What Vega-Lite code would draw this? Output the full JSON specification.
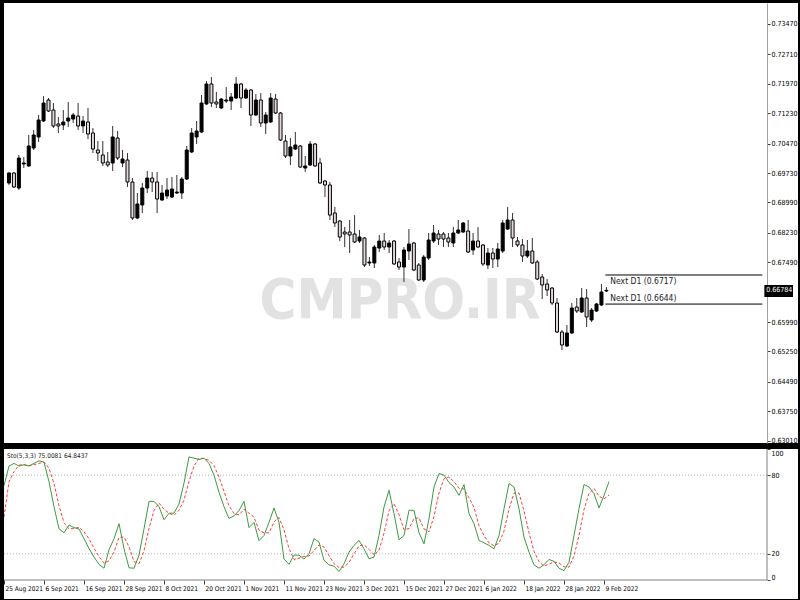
{
  "$schema": "https://vega.github.io/schema/vega-lite/v6.json",
  "background": "black",
  "padding": {"left": 3, "top": 3, "right": 3, "bottom": 3},
  "spacing": 4,
  "config": {
    "view": {"stroke": null, "fill": "white"},
    "font": "DejaVu Sans Condensed",
    "axis": {"labelFont": "DejaVu Sans Condensed", "labelColor": "#000", "labelOverlap": false}
  },
  "datasets": {
    "candles": [
      {"i":0,"open":0.69479,"high":0.69755,"low":0.69429,"close":0.6973},
      {"i":1,"open":0.6973,"high":0.69755,"low":0.69353,"close":0.69379},
      {"i":2,"open":0.69353,"high":0.70182,"low":0.69303,"close":0.70106},
      {"i":3,"open":0.69956,"high":0.70131,"low":0.69855,"close":0.69981},
      {"i":4,"open":0.69906,"high":0.70684,"low":0.6988,"close":0.70408},
      {"i":5,"open":0.70357,"high":0.70809,"low":0.70307,"close":0.70684},
      {"i":6,"open":0.70634,"high":0.71186,"low":0.70508,"close":0.7106},
      {"i":7,"open":0.71035,"high":0.71662,"low":0.7101,"close":0.71487},
      {"i":8,"open":0.71562,"high":0.71612,"low":0.71261,"close":0.71286},
      {"i":9,"open":0.71311,"high":0.71487,"low":0.70859,"close":0.7091},
      {"i":10,"open":0.7096,"high":0.71135,"low":0.70734,"close":0.7091},
      {"i":11,"open":0.70935,"high":0.71311,"low":0.70809,"close":0.7101},
      {"i":12,"open":0.71035,"high":0.71512,"low":0.70885,"close":0.7111},
      {"i":13,"open":0.71085,"high":0.71236,"low":0.70985,"close":0.71186},
      {"i":14,"open":0.7116,"high":0.71487,"low":0.70809,"close":0.7091},
      {"i":15,"open":0.7091,"high":0.7116,"low":0.70734,"close":0.71035},
      {"i":16,"open":0.7101,"high":0.71361,"low":0.70583,"close":0.70709},
      {"i":17,"open":0.70734,"high":0.70859,"low":0.70232,"close":0.70332},
      {"i":18,"open":0.70307,"high":0.70533,"low":0.70031,"close":0.70232},
      {"i":19,"open":0.70182,"high":0.70533,"low":0.69906,"close":0.69981},
      {"i":20,"open":0.70006,"high":0.70257,"low":0.6988,"close":0.69931},
      {"i":21,"open":0.69981,"high":0.7091,"low":0.6978,"close":0.70634},
      {"i":22,"open":0.70608,"high":0.70784,"low":0.70056,"close":0.70106},
      {"i":23,"open":0.69981,"high":0.70307,"low":0.6988,"close":0.70081},
      {"i":24,"open":0.70056,"high":0.70232,"low":0.69379,"close":0.69504},
      {"i":25,"open":0.69504,"high":0.69604,"low":0.6855,"close":0.686},
      {"i":26,"open":0.686,"high":0.69228,"low":0.68575,"close":0.68952},
      {"i":27,"open":0.68927,"high":0.69479,"low":0.68726,"close":0.69353},
      {"i":28,"open":0.69353,"high":0.6978,"low":0.69228,"close":0.69604},
      {"i":29,"open":0.69604,"high":0.69755,"low":0.69253,"close":0.69504},
      {"i":30,"open":0.69504,"high":0.69755,"low":0.68726,"close":0.69077},
      {"i":31,"open":0.69052,"high":0.69429,"low":0.69027,"close":0.69228},
      {"i":32,"open":0.69153,"high":0.69604,"low":0.69077,"close":0.69303},
      {"i":33,"open":0.69127,"high":0.69629,"low":0.69102,"close":0.69328},
      {"i":34,"open":0.69228,"high":0.6968,"low":0.69203,"close":0.69253},
      {"i":35,"open":0.69228,"high":0.69629,"low":0.69077,"close":0.69579},
      {"i":36,"open":0.69579,"high":0.70408,"low":0.69554,"close":0.70307},
      {"i":37,"open":0.70257,"high":0.70859,"low":0.70232,"close":0.70734},
      {"i":38,"open":0.70634,"high":0.71035,"low":0.70458,"close":0.70784},
      {"i":39,"open":0.70759,"high":0.71688,"low":0.70734,"close":0.71487},
      {"i":40,"open":0.71462,"high":0.72039,"low":0.71437,"close":0.71964},
      {"i":41,"open":0.71964,"high":0.72139,"low":0.71386,"close":0.71487},
      {"i":42,"open":0.71512,"high":0.71763,"low":0.71361,"close":0.71462},
      {"i":43,"open":0.71361,"high":0.71612,"low":0.71336,"close":0.71587},
      {"i":44,"open":0.71537,"high":0.71888,"low":0.71487,"close":0.71562},
      {"i":45,"open":0.71537,"high":0.71738,"low":0.71311,"close":0.71637},
      {"i":46,"open":0.71612,"high":0.72139,"low":0.71587,"close":0.71964},
      {"i":47,"open":0.71964,"high":0.71989,"low":0.71361,"close":0.71612},
      {"i":48,"open":0.71612,"high":0.71863,"low":0.71587,"close":0.71813},
      {"i":49,"open":0.71813,"high":0.71838,"low":0.7091,"close":0.71186},
      {"i":50,"open":0.71186,"high":0.71713,"low":0.7116,"close":0.71562},
      {"i":51,"open":0.71562,"high":0.71738,"low":0.70885,"close":0.70985},
      {"i":52,"open":0.70985,"high":0.71261,"low":0.70709,"close":0.71186},
      {"i":53,"open":0.7101,"high":0.71738,"low":0.70985,"close":0.71612},
      {"i":54,"open":0.71587,"high":0.71713,"low":0.71211,"close":0.71236},
      {"i":55,"open":0.71236,"high":0.71261,"low":0.70533,"close":0.70558},
      {"i":56,"open":0.70533,"high":0.70684,"low":0.70106,"close":0.70156},
      {"i":57,"open":0.70156,"high":0.70608,"low":0.69931,"close":0.70383},
      {"i":58,"open":0.70332,"high":0.70759,"low":0.70307,"close":0.70433},
      {"i":59,"open":0.70408,"high":0.70433,"low":0.69855,"close":0.6988},
      {"i":60,"open":0.69855,"high":0.70156,"low":0.69755,"close":0.69906},
      {"i":61,"open":0.69931,"high":0.70533,"low":0.69906,"close":0.70458},
      {"i":62,"open":0.70458,"high":0.70483,"low":0.6988,"close":0.69906},
      {"i":63,"open":0.69981,"high":0.70106,"low":0.69454,"close":0.69479},
      {"i":64,"open":0.69529,"high":0.69554,"low":0.69127,"close":0.69429},
      {"i":65,"open":0.69429,"high":0.69504,"low":0.6855,"close":0.68675},
      {"i":66,"open":0.68726,"high":0.68876,"low":0.68374,"close":0.68475},
      {"i":67,"open":0.68525,"high":0.6855,"low":0.68023,"close":0.68123},
      {"i":68,"open":0.68249,"high":0.68374,"low":0.67872,"close":0.68199},
      {"i":69,"open":0.68249,"high":0.6855,"low":0.67722,"close":0.68174},
      {"i":70,"open":0.68199,"high":0.68675,"low":0.67973,"close":0.67998},
      {"i":71,"open":0.68023,"high":0.68299,"low":0.67973,"close":0.68123},
      {"i":72,"open":0.68098,"high":0.68123,"low":0.6737,"close":0.67421},
      {"i":73,"open":0.67471,"high":0.67621,"low":0.67396,"close":0.67496},
      {"i":74,"open":0.67471,"high":0.67923,"low":0.67345,"close":0.67872},
      {"i":75,"open":0.67847,"high":0.68174,"low":0.67747,"close":0.68023},
      {"i":76,"open":0.68023,"high":0.68224,"low":0.67797,"close":0.67872},
      {"i":77,"open":0.67872,"high":0.68048,"low":0.67722,"close":0.67973},
      {"i":78,"open":0.68023,"high":0.68048,"low":0.67421,"close":0.67446},
      {"i":79,"open":0.67496,"high":0.67596,"low":0.67295,"close":0.6737},
      {"i":80,"open":0.6737,"high":0.67872,"low":0.66994,"close":0.67797},
      {"i":81,"open":0.67772,"high":0.68324,"low":0.67546,"close":0.67948},
      {"i":82,"open":0.67973,"high":0.67998,"low":0.6727,"close":0.67295},
      {"i":83,"open":0.67421,"high":0.67471,"low":0.67019,"close":0.67044},
      {"i":84,"open":0.67044,"high":0.67672,"low":0.66994,"close":0.67621},
      {"i":85,"open":0.67596,"high":0.68224,"low":0.67546,"close":0.68048},
      {"i":86,"open":0.68023,"high":0.68425,"low":0.67973,"close":0.68224},
      {"i":87,"open":0.68199,"high":0.68299,"low":0.67923,"close":0.68073},
      {"i":88,"open":0.68199,"high":0.68249,"low":0.67872,"close":0.68073},
      {"i":89,"open":0.68098,"high":0.68224,"low":0.67872,"close":0.67998},
      {"i":90,"open":0.67973,"high":0.68374,"low":0.67872,"close":0.68224},
      {"i":91,"open":0.68224,"high":0.6855,"low":0.68199,"close":0.68299},
      {"i":92,"open":0.68249,"high":0.685,"low":0.68224,"close":0.68475},
      {"i":93,"open":0.68274,"high":0.6855,"low":0.67722,"close":0.67747},
      {"i":94,"open":0.67797,"high":0.68224,"low":0.67672,"close":0.68023},
      {"i":95,"open":0.68023,"high":0.68374,"low":0.67847,"close":0.67872},
      {"i":96,"open":0.67923,"high":0.67948,"low":0.67396,"close":0.67446},
      {"i":97,"open":0.67421,"high":0.67847,"low":0.6732,"close":0.67722},
      {"i":98,"open":0.67722,"high":0.67847,"low":0.67345,"close":0.67571},
      {"i":99,"open":0.67571,"high":0.67973,"low":0.6737,"close":0.67822},
      {"i":100,"open":0.67772,"high":0.6855,"low":0.67722,"close":0.68475},
      {"i":101,"open":0.68324,"high":0.68876,"low":0.68299,"close":0.6855},
      {"i":102,"open":0.6855,"high":0.68726,"low":0.67872,"close":0.68098},
      {"i":103,"open":0.68023,"high":0.68123,"low":0.67872,"close":0.67923},
      {"i":104,"open":0.67923,"high":0.68073,"low":0.67496,"close":0.67646},
      {"i":105,"open":0.67646,"high":0.68048,"low":0.67596,"close":0.67772},
      {"i":106,"open":0.67772,"high":0.68098,"low":0.67446,"close":0.67471},
      {"i":107,"open":0.67496,"high":0.67546,"low":0.67044,"close":0.67069},
      {"i":108,"open":0.67119,"high":0.67195,"low":0.66567,"close":0.66919},
      {"i":109,"open":0.66944,"high":0.67069,"low":0.66642,"close":0.66793},
      {"i":110,"open":0.66843,"high":0.66868,"low":0.66417,"close":0.66467},
      {"i":111,"open":0.66467,"high":0.66592,"low":0.65714,"close":0.65739},
      {"i":112,"open":0.65739,"high":0.65789,"low":0.65287,"close":0.65413},
      {"i":113,"open":0.65387,"high":0.65915,"low":0.65362,"close":0.65714},
      {"i":114,"open":0.65714,"high":0.66467,"low":0.65689,"close":0.66341},
      {"i":115,"open":0.66366,"high":0.66592,"low":0.66216,"close":0.66266},
      {"i":116,"open":0.66241,"high":0.66843,"low":0.66216,"close":0.66592},
      {"i":117,"open":0.66592,"high":0.66818,"low":0.65865,"close":0.66115},
      {"i":118,"open":0.6604,"high":0.66341,"low":0.6599,"close":0.66291},
      {"i":119,"open":0.66266,"high":0.66467,"low":0.66241,"close":0.66442},
      {"i":120,"open":0.66417,"high":0.66944,"low":0.66391,"close":0.66743},
      {"i":121,"open":0.66768,"high":0.66868,"low":0.66743,"close":0.66784}
    ],
    "stoch": [
      {"i":0,"k":72,"d":48},{"i":1,"k":87,"d":75},{"i":2,"k":89,"d":82.7},{"i":3,"k":87,"d":87.7},
      {"i":4,"k":88,"d":88},{"i":5,"k":87,"d":87.3},{"i":6,"k":89,"d":88},{"i":7,"k":91,"d":89},
      {"i":8,"k":90,"d":90},{"i":9,"k":75,"d":85.3},{"i":10,"k":56,"d":73.7},{"i":11,"k":39,"d":56.7},
      {"i":12,"k":36,"d":43.7},{"i":13,"k":42,"d":39},{"i":14,"k":40,"d":39.3},{"i":15,"k":39,"d":40.3},
      {"i":16,"k":31.5,"d":36.8},{"i":17,"k":24,"d":31.5},{"i":18,"k":17.5,"d":24.3},{"i":19,"k":12,"d":17.8},
      {"i":20,"k":9,"d":12.8},{"i":21,"k":23,"d":14.7},{"i":22,"k":31.5,"d":21.2},{"i":23,"k":43,"d":32.5},
      {"i":24,"k":24,"d":32.8},{"i":25,"k":9.3,"d":25.4},{"i":26,"k":9,"d":14.1},{"i":27,"k":19,"d":12.4},
      {"i":28,"k":39,"d":22.3},{"i":29,"k":60,"d":39.3},{"i":30,"k":60,"d":53},{"i":31,"k":56,"d":58.7},
      {"i":32,"k":46,"d":54},{"i":33,"k":51,"d":51},{"i":34,"k":51,"d":49.3},{"i":35,"k":58,"d":53.3},
      {"i":36,"k":74,"d":61},{"i":37,"k":94,"d":75.3},{"i":38,"k":93,"d":87},{"i":39,"k":92,"d":93},
      {"i":40,"k":93,"d":92.7},{"i":41,"k":89,"d":91.3},{"i":42,"k":80,"d":87.3},{"i":43,"k":67,"d":78.7},
      {"i":44,"k":56,"d":67.7},{"i":45,"k":47,"d":56.7},{"i":46,"k":49,"d":50.7},{"i":47,"k":53,"d":49.7},
      {"i":48,"k":60,"d":54},{"i":49,"k":40,"d":51},{"i":50,"k":44,"d":48},{"i":51,"k":30,"d":38},
      {"i":52,"k":34,"d":36},{"i":53,"k":44,"d":36},{"i":54,"k":55,"d":44.3},{"i":55,"k":44,"d":47.7},
      {"i":56,"k":16,"d":38.3},{"i":57,"k":12,"d":24},{"i":58,"k":19,"d":15.7},{"i":59,"k":19,"d":16.7},
      {"i":60,"k":16,"d":18},{"i":61,"k":20,"d":18.3},{"i":62,"k":31.5,"d":22.5},{"i":63,"k":29,"d":26.8},
      {"i":64,"k":15,"d":25.2},{"i":65,"k":11.6,"d":18.5},{"i":66,"k":10.6,"d":12.4},{"i":67,"k":6.5,"d":9.6},
      {"i":68,"k":12.3,"d":9.8},{"i":69,"k":21.3,"d":13.4},{"i":70,"k":26.4,"d":20},{"i":71,"k":30.2,"d":26},
      {"i":72,"k":23.8,"d":26.8},{"i":73,"k":16.2,"d":23.4},{"i":74,"k":17.5,"d":19.2},{"i":75,"k":34,"d":22.6},
      {"i":76,"k":55.7,"d":35.7},{"i":77,"k":68.5,"d":52.7},{"i":78,"k":50.6,"d":58.3},{"i":79,"k":30.7,"d":49.9},
      {"i":80,"k":34,"d":38.4},{"i":81,"k":53.2,"d":39.3},{"i":82,"k":53.2,"d":46.8},{"i":83,"k":36.1,"d":47.5},
      {"i":84,"k":27.6,"d":39},{"i":85,"k":46.8,"d":36.8},{"i":86,"k":71,"d":48.5},{"i":87,"k":81.3,"d":66.4},
      {"i":88,"k":80,"d":77.4},{"i":89,"k":74.4,"d":78.6},{"i":90,"k":71,"d":75.1},{"i":91,"k":64.6,"d":70},
      {"i":92,"k":72.9,"d":69.5},{"i":93,"k":50.6,"d":62.7},{"i":94,"k":43,"d":55.5},{"i":95,"k":30.2,"d":41.3},
      {"i":96,"k":28.4,"d":33.9},{"i":97,"k":26.4,"d":28.3},{"i":98,"k":23.8,"d":26.2},{"i":99,"k":34,"d":28.1},
      {"i":100,"k":54.4,"d":37.4},{"i":101,"k":73.6,"d":54},{"i":102,"k":71,"d":66.3},{"i":103,"k":54.4,"d":66.3},
      {"i":104,"k":32.8,"d":52.7},{"i":105,"k":21.3,"d":36.2},{"i":106,"k":11.6,"d":21.9},{"i":107,"k":9,"d":14},
      {"i":108,"k":11.6,"d":10.7},{"i":109,"k":15.7,"d":12.1},{"i":110,"k":14.2,"d":13.8},{"i":111,"k":9,"d":13},
      {"i":112,"k":7.2,"d":10.1},{"i":113,"k":13.6,"d":9.9},{"i":114,"k":34,"d":18.3},{"i":115,"k":54.4,"d":34},
      {"i":116,"k":72.9,"d":53.8},{"i":117,"k":71,"d":66.1},{"i":118,"k":65.9,"d":69.9},{"i":119,"k":55,"d":64},
      {"i":120,"k":64.6,"d":61.8},{"i":121,"k":75.0081,"d":64.8437}
    ]
  },
  "vconcat": [
    {
      "width": 794,
      "height": 440,
      "layer": [
        {
          "data": {"values": [{}]},
          "mark": {"type": "text", "text": "CMPRO.IR", "fontSize": 56, "fontWeight": "bold", "color": "#e2e2e2", "align": "center", "baseline": "middle", "font": "DejaVu Sans Condensed"},
          "encoding": {
            "x": {"datum": 79.2, "type": "quantitative", "scale": {"domain": [0, 158.8], "nice": false, "zero": false}, "axis": null},
            "y": {"datum": 0.6652, "type": "quantitative", "scale": {"domain": [0.62953, 0.73997], "nice": false, "zero": false},
              "axis": {"orient": "right", "offset": -31, "title": null, "grid": false, "labelOverlap": false, "labelBound": false, "tickCount": 30,
                "values": [0.7347, 0.7271, 0.7197, 0.7123, 0.7047, 0.6973, 0.6899, 0.6823, 0.6749, 0.6599, 0.6525, 0.6449, 0.6375, 0.6301],
                "format": ".5f", "domainColor": "#a0a0a0", "domainWidth": 1, "tickColor": "#404040", "tickSize": 3, "labelPadding": 1, "labelFontSize": 7, "labelAlign": "left", "labelBaseline": "middle"}}
          }
        },
        {
          "data": {"name": "candles"},
          "mark": {"type": "rule", "color": "#333333", "strokeWidth": 1, "clip": true},
          "encoding": {
            "x": {"field": "i", "type": "quantitative"},
            "y": {"field": "low", "type": "quantitative"},
            "y2": {"field": "high"}
          }
        },
        {
          "data": {"name": "candles"},
          "mark": {"type": "bar", "width": 3, "stroke": "#000000", "strokeWidth": 1, "clip": true},
          "encoding": {
            "x": {"field": "i", "type": "quantitative"},
            "y": {"field": "open", "type": "quantitative"},
            "y2": {"field": "close"},
            "fill": {"condition": {"test": "datum.close > datum.open", "value": "#000000"}, "value": "#e6d8d8"}
          }
        },
        {
          "data": {"values": [{"level": 0.6717}, {"level": 0.6644}]},
          "mark": {"type": "rule", "color": "#000000", "strokeWidth": 1},
          "encoding": {
            "x": {"datum": 120.8, "type": "quantitative"},
            "x2": {"datum": 152.6},
            "y": {"field": "level", "type": "quantitative"}
          }
        },
        {
          "data": {"values": [{"label": "Next D1 (0.6717)", "level": 0.6717}]},
          "mark": {"type": "text", "align": "left", "baseline": "top", "dy": 2, "fontSize": 8.5, "color": "#222222"},
          "encoding": {
            "x": {"datum": 121.8, "type": "quantitative"},
            "y": {"field": "level", "type": "quantitative"},
            "text": {"field": "label"}
          }
        },
        {
          "data": {"values": [{"label": "Next D1 (0.6644)", "level": 0.6644}]},
          "mark": {"type": "text", "align": "left", "baseline": "alphabetic", "dy": -3, "fontSize": 8.5, "color": "#222222"},
          "encoding": {
            "x": {"datum": 121.8, "type": "quantitative"},
            "y": {"field": "level", "type": "quantitative"},
            "text": {"field": "label"}
          }
        },
        {
          "data": {"values": [{"price": 0.66784}]},
          "mark": {"type": "rect", "color": "#000000"},
          "encoding": {
            "x": {"datum": 153, "type": "quantitative"},
            "x2": {"datum": 158.8},
            "y": {"datum": 0.66919, "type": "quantitative"},
            "y2": {"datum": 0.66617}
          }
        },
        {
          "data": {"values": [{"price": 0.66784}]},
          "mark": {"type": "text", "align": "left", "baseline": "middle", "fontSize": 7, "color": "#ffffff"},
          "encoding": {
            "x": {"datum": 153.4, "type": "quantitative"},
            "y": {"field": "price", "type": "quantitative"},
            "text": {"field": "price", "format": ".5f"}
          }
        }
      ]
    },
    {
      "width": 794,
      "height": 150,
      "layer": [
        {
          "data": {"values": [{"lv": 80}, {"lv": 20}]},
          "mark": {"type": "rule", "color": "#b4b4b4", "strokeDash": [1, 2], "strokeWidth": 1},
          "encoding": {
            "x": {"datum": 0, "type": "quantitative", "scale": {"domain": [0, 158.8], "nice": false, "zero": false},
              "axis": {"orient": "bottom", "offset": -19, "title": null, "grid": false, "domain": false, "tickCount": 30,
                "values": [0, 8, 16, 24, 32, 40, 48, 56, 64, 72, 80, 88, 96, 104, 112, 120],
                "labelExpr": "['25 Aug 2021','6 Sep 2021','16 Sep 2021','28 Sep 2021','8 Oct 2021','20 Oct 2021','1 Nov 2021','11 Nov 2021','23 Nov 2021','3 Dec 2021','15 Dec 2021','27 Dec 2021','6 Jan 2022','18 Jan 2022','28 Jan 2022','9 Feb 2022'][round(datum.value/8)]",
                "tickSize": 4, "tickColor": "#404040", "labelAlign": "left", "labelBaseline": "top", "labelPadding": 1, "labelOffset": 1,
                "labelFontSize": 6.5, "labelFlush": false, "labelOverlap": false, "labelBound": false}},
            "x2": {"datum": 152.6},
            "y": {"field": "lv", "type": "quantitative", "scale": {"domain": [-14.5, 100], "nice": false, "zero": false},
              "axis": {"orient": "right", "offset": -31, "title": null, "grid": false, "domain": false,
                "values": [0, 20, 80, 100], "tickSize": 3, "tickColor": "#404040", "labelPadding": 1, "labelFontSize": 7,
                "labelAlign": "left", "labelFlush": false, "labelOverlap": false,
                "labelBaseline": {"condition": [{"test": "datum.value == 100", "value": "top"}, {"test": "datum.value == 0", "value": "bottom"}], "value": "middle"}}}
          }
        },
        {
          "data": {"values": [{}]},
          "mark": {"type": "rule", "color": "#808080", "strokeWidth": 1},
          "encoding": {
            "x": {"datum": 0, "type": "quantitative"},
            "x2": {"datum": 152.6},
            "y": {"datum": 0, "type": "quantitative"}
          }
        },
        {
          "data": {"values": [{}]},
          "mark": {"type": "rule", "color": "#808080", "strokeWidth": 1},
          "encoding": {
            "x": {"datum": 152.6, "type": "quantitative"},
            "y": {"datum": 0, "type": "quantitative"},
            "y2": {"datum": 100}
          }
        },
        {
          "data": {"name": "stoch"},
          "mark": {"type": "line", "color": "#ff3b3b", "strokeWidth": 1, "strokeDash": [3, 2], "clip": true},
          "encoding": {
            "x": {"field": "i", "type": "quantitative"},
            "y": {"field": "d", "type": "quantitative"}
          }
        },
        {
          "data": {"name": "stoch"},
          "mark": {"type": "line", "color": "#3f9a3f", "strokeWidth": 1, "clip": true},
          "encoding": {
            "x": {"field": "i", "type": "quantitative"},
            "y": {"field": "k", "type": "quantitative"}
          }
        },
        {
          "data": {"values": [{"label": "Sto(5,3,3) 75.0081 64.8437"}]},
          "mark": {"type": "text", "align": "left", "baseline": "middle", "fontSize": 6.5, "color": "#222222"},
          "encoding": {
            "x": {"datum": 0.6, "type": "quantitative"},
            "y": {"datum": 94.7, "type": "quantitative"},
            "text": {"field": "label"}
          }
        }
      ]
    }
  ]
}
